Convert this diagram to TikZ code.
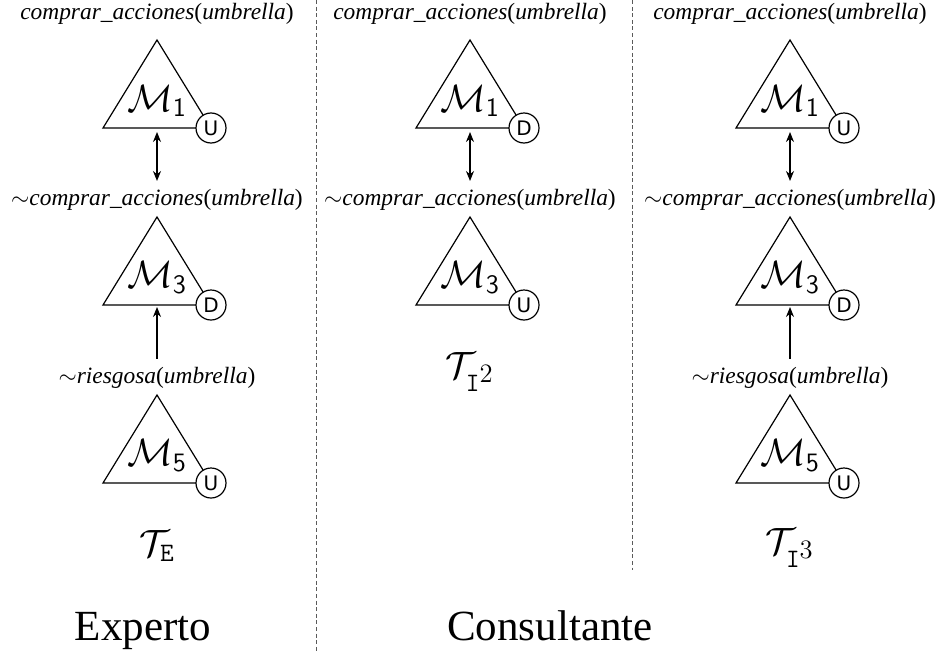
\RequirePackage{fix-cm}
\documentclass[tikz,border=0pt]{standalone}
\usepackage{fontspec}
\setmainfont{Liberation Serif}
\newfontfamily\marcafont{DejaVu Sans}
\usepackage{amsmath,amssymb}
\usepackage{tikz}
\usetikzlibrary{arrows.meta,positioning,calc}
\usepackage{xcolor}
\definecolor{sepgray}{RGB}{90,90,90}

\tikzset{
  triang/.style={line width=0.6pt, line join=miter},
  mlbl/.style={inner sep=0pt, font=\fontsize{19}{21}\selectfont},
  marca/.style={circle, draw, fill=white, line width=0.6pt, minimum size=15pt, inner sep=0pt, font=\fontsize{10}{12}\selectfont\marcafont},
  lbl/.style={inner sep=1pt, font=\fontsize{11.7}{14}\selectfont},
  tlbl/.style={inner sep=0pt, font=\fontsize{19}{21}\selectfont},
  grupo/.style={inner sep=0pt, anchor=base, font=\fontsize{21.5}{24}\selectfont},
  flecha/.style={line width=0.6pt, shorten >=3pt, shorten <=1pt},
  sep/.style={draw=sepgray, line width=0.5pt, dash pattern=on 2pt off 1.3pt}
}

% one model: name, x, y of apex, index, mark
\newcommand{\modelo}[5]{%
  \coordinate (#1-top) at (#2,#3);
  \draw[triang] (#1-top) -- ++(-54,88) coordinate (#1-l) -- ++(108,0) coordinate (#1-r) -- cycle;
  \path (#1-top) ++(0,88) coordinate (#1-base);
  \node[mlbl] (#1) at ($(#1-top)+(0,61)$) {$\mathcal{M}_{\textsf{#4}}$};
  \node[marca] (#1-m) at (#1-r) {#5};
}

\begin{document}
\begin{tikzpicture}[x=0.5pt, y=-0.5pt]
\useasboundingbox (0,0) rectangle (947,653);

% separators
\draw[sep] (316,0) -- (316,653);
\draw[sep] (632,0) -- (632,570);

% Experto
\node[lbl] (e-c1) at (157,14) {\textit{comprar\_acciones}(\textit{umbrella})};
\modelo{e1}{157}{40}{1}{U}
\node[lbl] (e-c2) at (157,200) {$\sim$\textit{comprar\_acciones}(\textit{umbrella})};
\modelo{e3}{157}{217}{3}{D}
\node[lbl] (e-r) at (157,378) {$\sim$\textit{riesgosa}(\textit{umbrella})};
\modelo{e5}{157}{395}{5}{U}
\node[tlbl] (te) at (157,546) {$\mathcal{T}_{\texttt{E}}$};

\draw[flecha, {Stealth[length=5pt,width=4pt]}-{Stealth[length=5pt,width=4pt]}, shorten <=2pt] (e1-base) -- (e-c2.north);
\draw[flecha, -{Stealth[length=5pt,width=4pt]}, shorten >=1pt, shorten <=3pt] (e-r.north) -- (e3-base);

% Consultante, I2
\node[lbl] (a-c1) at (470,14) {\textit{comprar\_acciones}(\textit{umbrella})};
\modelo{a1}{470}{40}{1}{D}
\node[lbl] (a-c2) at (470,200) {$\sim$\textit{comprar\_acciones}(\textit{umbrella})};
\modelo{a3}{470}{217}{3}{U}
\node[tlbl] (ta) at (470,372) {$\mathcal{T}_{\texttt{I}^{\scriptstyle 2}}$};

\draw[flecha, {Stealth[length=5pt,width=4pt]}-{Stealth[length=5pt,width=4pt]}, shorten <=2pt] (a1-base) -- (a-c2.north);

% Consultante, I3
\node[lbl] (b-c1) at (790,14) {\textit{comprar\_acciones}(\textit{umbrella})};
\modelo{b1}{790}{40}{1}{U}
\node[lbl] (b-c2) at (790,200) {$\sim$\textit{comprar\_acciones}(\textit{umbrella})};
\modelo{b3}{790}{217}{3}{D}
\node[lbl] (b-r) at (790,378) {$\sim$\textit{riesgosa}(\textit{umbrella})};
\modelo{b5}{790}{395}{5}{U}
\node[tlbl] (tb) at (790,548) {$\mathcal{T}_{\texttt{I}^{\scriptstyle 3}}$};

\draw[flecha, {Stealth[length=5pt,width=4pt]}-{Stealth[length=5pt,width=4pt]}, shorten <=2pt] (b1-base) -- (b-c2.north);
\draw[flecha, -{Stealth[length=5pt,width=4pt]}, shorten >=1pt, shorten <=3pt] (b-r.north) -- (b3-base);

% groups
\node[grupo] (exp) at (143,640) {Experto};
\node[grupo] (con) at (550,640) {Consultante};
\end{tikzpicture}
\end{document}
